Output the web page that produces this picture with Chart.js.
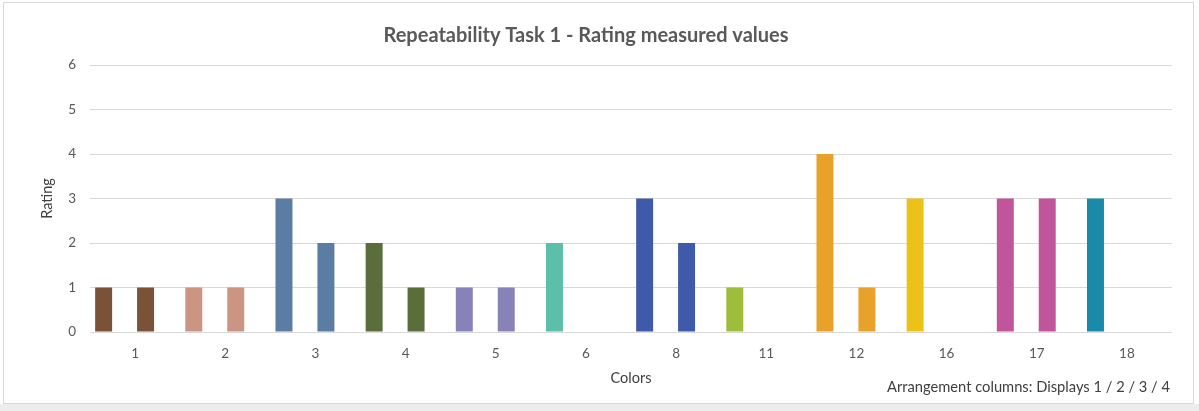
<!DOCTYPE html>
<html>
<head>
<meta charset="utf-8">
<script src="https://cdn.jsdelivr.net/npm/chart.js@4/dist/chart.umd.min.js"></script>
<style>
html,body{margin:0;padding:0;background:#fff;}
#c{display:block;}
</style>
</head>
<body>
<canvas id="c" width="1199" height="411"></canvas>
<script>
const categories = ['1','2','3','4','5','6','8','11','12','16','17','18'];
const display1 = [1,1,3,2,1,2,3,1,4,3,3,3];
const display2 = [0,0,0,0,0,0,0,0,0,0,0,0];
const display3 = [1,1,2,1,1,0,2,0,1,0,3,0];
const display4 = [0,0,0,0,0,0,0,0,0,0,0,0];
const colorOfCategory = ['#7a5238','#cc9482','#5b7da4','#5a6d3b','#8782b8','#5bbfa9','#3f5aa9','#9dbd3b','#e8a229','#edc218','#c0559b','#1a8aa9'];
const yTicks = [0,1,2,3,4,5,6];
const titleText = 'Repeatability Task 1 - Rating measured values';
const yTitle = 'Rating';
const xTitle = 'Colors';
const noteText = 'Arrangement columns: Displays 1 / 2 / 3 / 4';

const FONT = 'Lato, "Open Sans", sans-serif';

const framePlugin = {
  id: 'frame',
  beforeDraw(chart) {
    const ctx = chart.ctx;
    ctx.save();
    ctx.fillStyle = '#ffffff';
    ctx.fillRect(0, 0, chart.width, chart.height);
    ctx.fillStyle = '#ededed';
    ctx.fillRect(0, 404, chart.width, chart.height - 404);
    ctx.strokeStyle = '#d9d9d9';
    ctx.lineWidth = 1;
    ctx.strokeRect(3.5, 2.5, 1190, 401);
    ctx.restore();
  },
  afterDraw(chart) {
    const ctx = chart.ctx;
    ctx.save();
    ctx.font = '14.7px ' + FONT;
    ctx.fillStyle = '#404040';
    ctx.textAlign = 'right';
    ctx.textBaseline = 'middle';
    ctx.fillText(noteText, 1170, 387);
    ctx.restore();
  }
};

const mk = (label, data) => ({
  label, data,
  backgroundColor: colorOfCategory,
  borderWidth: 0,
  categoryPercentage: 0.93,
  barPercentage: 0.81
});

new Chart(document.getElementById('c'), {
  type: 'bar',
  data: {
    labels: categories,
    datasets: [mk('Display 1', display1), mk('Display 2', display2), mk('Display 3', display3), mk('Display 4', display4)]
  },
  options: {
    responsive: false,
    animation: false,
    devicePixelRatio: 1,
    layout: { padding: { left: 0, right: 27, top: 0, bottom: 24 } },
    plugins: {
      legend: { display: false },
      tooltip: { enabled: false },
      title: {
        display: true,
        text: titleText,
        color: '#595959',
        font: { family: FONT, size: 20, weight: 'bold' },
        padding: { top: 24, bottom: 17 }
      }
    },
    scales: {
      x: {
        grid: { display: false, drawTicks: false },
        border: { display: false },
        ticks: { color: '#595959', font: { family: FONT, size: 13.5 }, padding: 14, maxRotation: 0, autoSkip: false },
        title: { display: true, text: xTitle, color: '#404040', font: { family: FONT, size: 14.5 }, padding: { top: 0, bottom: 0 } },
        afterFit(s) { s.height = 55; }
      },
      y: {
        min: 0, max: 6,
        afterBuildTicks(s) { s.ticks = yTicks.map(v => ({ value: v })); },
        grid: { color: '#d9d9d9', lineWidth: 1, drawTicks: false },
        border: { display: false },
        ticks: { color: '#595959', font: { family: FONT, size: 13.5 }, padding: 14 },
        title: { display: true, text: yTitle, color: '#404040', font: { family: FONT, size: 14.5 }, padding: { top: 39, bottom: 0 } },
        afterFit(s) { s.width = 90; }
      }
    }
  },
  plugins: [framePlugin]
});
</script>
</body>
</html>
